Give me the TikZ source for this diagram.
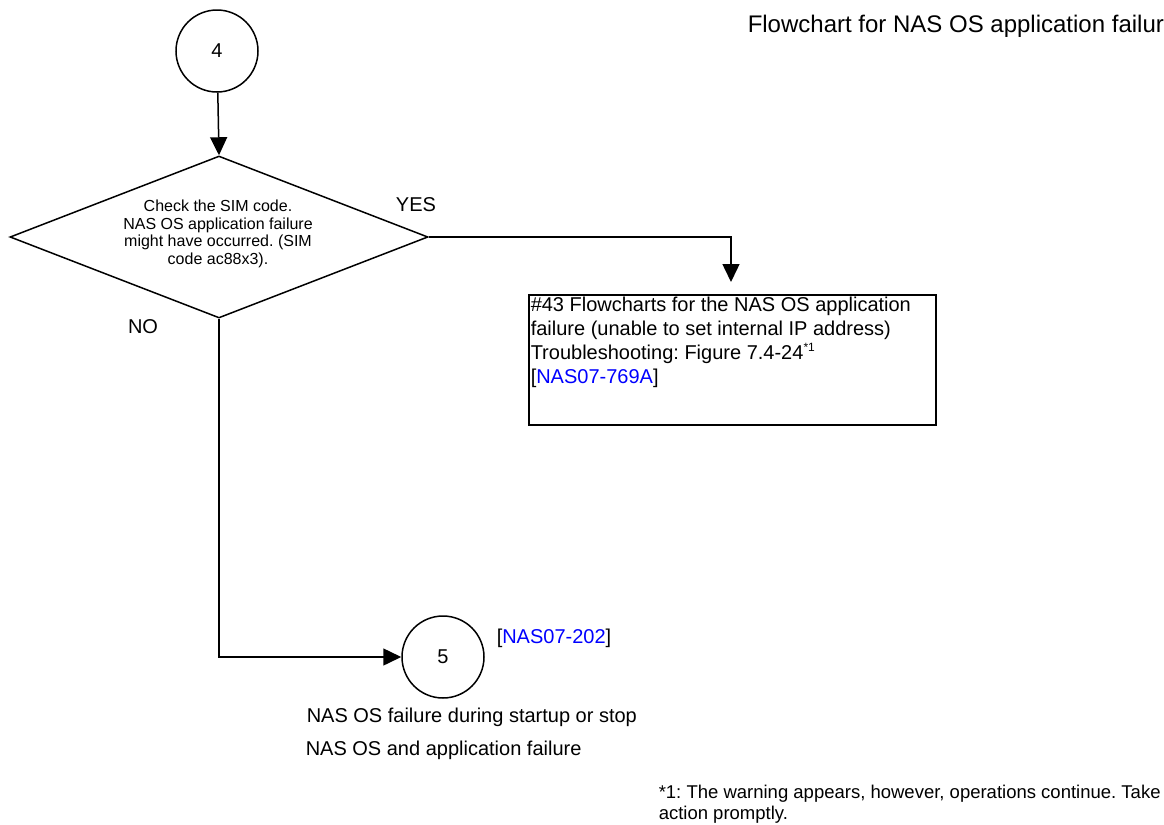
\documentclass[tikz,border=0pt]{standalone}
\usepackage{fontspec}
\setmainfont{Liberation Sans}
\usetikzlibrary{shapes.geometric, arrows.meta, positioning}

\begin{document}
\frenchspacing
\begin{tikzpicture}[x=0.5pt, y=-0.5pt, line width=0.75pt, >={Triangle[length=9pt,width=8.5pt]},
    every node/.style={inner sep=0pt},
    conn/.style={circle, draw, minimum size=41pt, font=\fontsize{10}{12}\selectfont},
    txt/.style={font=\fontsize{10}{12}\selectfont},
    smalltxt/.style={font=\fontsize{8}{8.75}\selectfont, align=center}]
    \useasboundingbox (0,0) rectangle (1164,825);
    \clip (0,0) rectangle (1164,825);

    % Title
    \node[anchor=west, font=\fontsize{12}{14}\selectfont] (title) at (747, 26) {Flowchart for NAS OS application failure};

    % Connector 4 (x=217, y=51)
    \node[conn] (c4) at (217, 51) {4};

    % Decision (x=219, y=237)
    \node[draw, diamond, minimum width=209pt, minimum height=81pt] (chk) at (219, 237) {};
    \node[smalltxt] (chktext) at (218, 234) {Check the SIM code.\\NAS OS application failure\\might have occurred. (SIM\\code ac88x3).};
    \node[txt] (yes) at (416, 205) {YES};
    \node[txt] (no) at (143, 327) {NO};

    % Reference box (x=528..935, y=294..424)
    \node[draw, rectangle, minimum width=203.5pt, minimum height=65pt, anchor=north west] (ref) at (528, 294) {};
    \node[txt, anchor=north west, align=left] (reftext) at ([xshift=1pt, yshift=-1pt]ref.north west)
        {\#43 Flowcharts for the NAS OS application\\failure (unable to set internal IP address)\\Troubleshooting: Figure 7.4-24\textsuperscript{\fontsize{6}{6}\selectfont *1}\\{[}\textcolor{blue}{NAS07-769A}{]}};

    % Connector 5 (x=443, y=657)
    \node[conn] (c5) at (443, 657) {5};
    \node[txt, anchor=west] (c5ref) at (496, 638) {[\textcolor{blue}{NAS07-202}]};
    \node[txt, anchor=west] (c5a) at (306, 717) {NAS OS failure during startup or stop};
    \node[txt, anchor=west] (c5b) at (305, 750) {NAS OS and application failure};

    % Footnote
    \node[anchor=north west, align=left, font=\fontsize{9.25}{10.5}\selectfont] (note) at (658, 784)
        {*1: The warning appears, however, operations continue. Take\\action promptly.};

    % Arrows
    \draw[->] (c4) -- (chk.north);
    \draw[->, shorten >=6pt] (chk.east) -| (ref.north -| 731,0);
    \draw[->] (chk.south) |- (c5.west);
\end{tikzpicture}
\end{document}
